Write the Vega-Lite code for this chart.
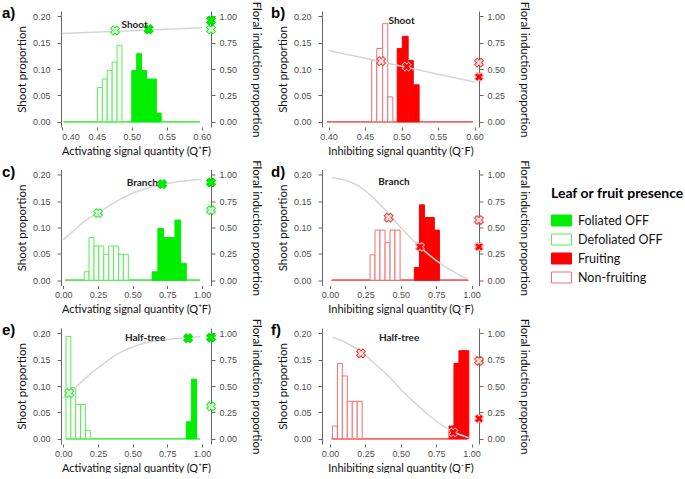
{
"$schema":"https://vega.github.io/schema/vega-lite/v6.json",
"background":"white",
"padding":{"left":2,"top":1,"right":0,"bottom":0},
"datasets":{
"bars":[
{"panel":"a","group":"Foliated OFF","x":0.403,"xe":0.597,"p":0},
{"panel":"a","group":"Defoliated OFF","x":0.403,"xe":0.597,"p":0},
{"panel":"a","group":"Defoliated OFF","x":0.451,"xe":0.458,"p":0.065},
{"panel":"a","group":"Defoliated OFF","x":0.458,"xe":0.465,"p":0.081},
{"panel":"a","group":"Defoliated OFF","x":0.465,"xe":0.472,"p":0.097},
{"panel":"a","group":"Defoliated OFF","x":0.472,"xe":0.479,"p":0.113},
{"panel":"a","group":"Defoliated OFF","x":0.479,"xe":0.486,"p":0.145},
{"panel":"a","group":"Foliated OFF","x":0.500,"xe":0.507,"p":0.097},
{"panel":"a","group":"Foliated OFF","x":0.507,"xe":0.514,"p":0.129},
{"panel":"a","group":"Foliated OFF","x":0.514,"xe":0.521,"p":0.097},
{"panel":"a","group":"Foliated OFF","x":0.521,"xe":0.528,"p":0.081},
{"panel":"a","group":"Foliated OFF","x":0.528,"xe":0.535,"p":0.081},
{"panel":"a","group":"Foliated OFF","x":0.535,"xe":0.542,"p":0.016},
{"panel":"b","group":"Fruiting","x":0.398,"xe":0.597,"p":0},
{"panel":"b","group":"Non-fruiting","x":0.398,"xe":0.597,"p":0},
{"panel":"b","group":"Non-fruiting","x":0.459,"xe":0.466,"p":0.116},
{"panel":"b","group":"Non-fruiting","x":0.466,"xe":0.474,"p":0.139},
{"panel":"b","group":"Non-fruiting","x":0.474,"xe":0.481,"p":0.186},
{"panel":"b","group":"Non-fruiting","x":0.481,"xe":0.488,"p":0.047},
{"panel":"b","group":"Fruiting","x":0.494,"xe":0.501,"p":0.139},
{"panel":"b","group":"Fruiting","x":0.501,"xe":0.509,"p":0.162},
{"panel":"b","group":"Fruiting","x":0.509,"xe":0.516,"p":0.116},
{"panel":"b","group":"Fruiting","x":0.516,"xe":0.524,"p":0.070},
{"panel":"c","group":"Foliated OFF","x":0.015,"xe":0.985,"p":0},
{"panel":"c","group":"Defoliated OFF","x":0.015,"xe":0.985,"p":0},
{"panel":"c","group":"Defoliated OFF","x":0.151,"xe":0.186,"p":0.016},
{"panel":"c","group":"Defoliated OFF","x":0.186,"xe":0.222,"p":0.081},
{"panel":"c","group":"Defoliated OFF","x":0.222,"xe":0.257,"p":0.065},
{"panel":"c","group":"Defoliated OFF","x":0.257,"xe":0.292,"p":0.065},
{"panel":"c","group":"Defoliated OFF","x":0.292,"xe":0.328,"p":0.049},
{"panel":"c","group":"Defoliated OFF","x":0.328,"xe":0.363,"p":0.065},
{"panel":"c","group":"Defoliated OFF","x":0.363,"xe":0.398,"p":0.065},
{"panel":"c","group":"Defoliated OFF","x":0.398,"xe":0.434,"p":0.049},
{"panel":"c","group":"Defoliated OFF","x":0.434,"xe":0.469,"p":0.049},
{"panel":"c","group":"Foliated OFF","x":0.641,"xe":0.682,"p":0.016},
{"panel":"c","group":"Foliated OFF","x":0.682,"xe":0.723,"p":0.098},
{"panel":"c","group":"Foliated OFF","x":0.723,"xe":0.764,"p":0.081},
{"panel":"c","group":"Foliated OFF","x":0.764,"xe":0.805,"p":0.081},
{"panel":"c","group":"Foliated OFF","x":0.805,"xe":0.846,"p":0.114},
{"panel":"c","group":"Foliated OFF","x":0.846,"xe":0.887,"p":0.032},
{"panel":"d","group":"Fruiting","x":0.012,"xe":0.977,"p":0},
{"panel":"d","group":"Non-fruiting","x":0.012,"xe":0.977,"p":0},
{"panel":"d","group":"Non-fruiting","x":0.283,"xe":0.318,"p":0.048},
{"panel":"d","group":"Non-fruiting","x":0.318,"xe":0.353,"p":0.095},
{"panel":"d","group":"Non-fruiting","x":0.353,"xe":0.389,"p":0.095},
{"panel":"d","group":"Non-fruiting","x":0.389,"xe":0.424,"p":0.071},
{"panel":"d","group":"Non-fruiting","x":0.424,"xe":0.459,"p":0.095},
{"panel":"d","group":"Non-fruiting","x":0.459,"xe":0.495,"p":0.095},
{"panel":"d","group":"Fruiting","x":0.596,"xe":0.632,"p":0.024},
{"panel":"d","group":"Fruiting","x":0.632,"xe":0.667,"p":0.143},
{"panel":"d","group":"Fruiting","x":0.667,"xe":0.702,"p":0.119},
{"panel":"d","group":"Fruiting","x":0.702,"xe":0.737,"p":0.119},
{"panel":"d","group":"Fruiting","x":0.737,"xe":0.773,"p":0.095},
{"panel":"e","group":"Foliated OFF","x":0.02,"xe":0.985,"p":0},
{"panel":"e","group":"Defoliated OFF","x":0.02,"xe":0.985,"p":0},
{"panel":"e","group":"Defoliated OFF","x":0.020,"xe":0.055,"p":0.194},
{"panel":"e","group":"Defoliated OFF","x":0.055,"xe":0.090,"p":0.097},
{"panel":"e","group":"Defoliated OFF","x":0.090,"xe":0.125,"p":0.065},
{"panel":"e","group":"Defoliated OFF","x":0.125,"xe":0.160,"p":0.065},
{"panel":"e","group":"Defoliated OFF","x":0.160,"xe":0.195,"p":0.016},
{"panel":"e","group":"Foliated OFF","x":0.887,"xe":0.924,"p":0.032},
{"panel":"e","group":"Foliated OFF","x":0.924,"xe":0.961,"p":0.113},
{"panel":"f","group":"Fruiting","x":0.012,"xe":0.97,"p":0},
{"panel":"f","group":"Non-fruiting","x":0.012,"xe":0.97,"p":0},
{"panel":"f","group":"Non-fruiting","x":0.017,"xe":0.052,"p":0.024},
{"panel":"f","group":"Non-fruiting","x":0.052,"xe":0.087,"p":0.143},
{"panel":"f","group":"Non-fruiting","x":0.087,"xe":0.122,"p":0.119},
{"panel":"f","group":"Non-fruiting","x":0.122,"xe":0.157,"p":0.071},
{"panel":"f","group":"Non-fruiting","x":0.157,"xe":0.192,"p":0.071},
{"panel":"f","group":"Non-fruiting","x":0.192,"xe":0.227,"p":0.071},
{"panel":"f","group":"Fruiting","x":0.841,"xe":0.876,"p":0.024},
{"panel":"f","group":"Fruiting","x":0.876,"xe":0.911,"p":0.143},
{"panel":"f","group":"Fruiting","x":0.911,"xe":0.946,"p":0.167},
{"panel":"f","group":"Fruiting","x":0.946,"xe":0.981,"p":0.167}
],
"curves":[
{"panel":"a","x":0.40,"f":0.837},{"panel":"a","x":0.50,"f":0.863},{"panel":"a","x":0.60,"f":0.89},
{"panel":"b","x":0.40,"f":0.676},{"panel":"b","x":0.50,"f":0.526},{"panel":"b","x":0.60,"f":0.376},
{"panel":"c","x":0,"f":0.383},{"panel":"c","x":0.05,"f":0.44},{"panel":"c","x":0.1,"f":0.5},{"panel":"c","x":0.15,"f":0.555},{"panel":"c","x":0.2,"f":0.6},{"panel":"c","x":0.25,"f":0.64},{"panel":"c","x":0.3,"f":0.68},{"panel":"c","x":0.4,"f":0.76},{"panel":"c","x":0.5,"f":0.825},{"panel":"c","x":0.6,"f":0.87},{"panel":"c","x":0.7,"f":0.905},{"panel":"c","x":0.8,"f":0.93},{"panel":"c","x":0.9,"f":0.945},{"panel":"c","x":0.99,"f":0.958},
{"panel":"d","x":0.01,"f":0.975},{"panel":"d","x":0.1,"f":0.95},{"panel":"d","x":0.2,"f":0.895},{"panel":"d","x":0.3,"f":0.79},{"panel":"d","x":0.4,"f":0.65},{"panel":"d","x":0.5,"f":0.5},{"panel":"d","x":0.6,"f":0.36},{"panel":"d","x":0.7,"f":0.24},{"panel":"d","x":0.8,"f":0.14},{"panel":"d","x":0.9,"f":0.06},{"panel":"d","x":0.98,"f":0.005},
{"panel":"e","x":0,"f":0.385},{"panel":"e","x":0.05,"f":0.44},{"panel":"e","x":0.1,"f":0.5},{"panel":"e","x":0.15,"f":0.56},{"panel":"e","x":0.2,"f":0.62},{"panel":"e","x":0.27,"f":0.69},{"panel":"e","x":0.35,"f":0.77},{"panel":"e","x":0.43,"f":0.83},{"panel":"e","x":0.51,"f":0.875},{"panel":"e","x":0.6,"f":0.91},{"panel":"e","x":0.75,"f":0.94},{"panel":"e","x":0.9,"f":0.96},{"panel":"e","x":0.99,"f":0.968},
{"panel":"f","x":0.02,"f":0.96},{"panel":"f","x":0.1,"f":0.92},{"panel":"f","x":0.2,"f":0.84},{"panel":"f","x":0.3,"f":0.73},{"panel":"f","x":0.4,"f":0.61},{"panel":"f","x":0.5,"f":0.47},{"panel":"f","x":0.6,"f":0.34},{"panel":"f","x":0.7,"f":0.22},{"panel":"f","x":0.8,"f":0.12},{"panel":"f","x":0.9,"f":0.05},{"panel":"f","x":0.98,"f":0.01}
],
"markers":[
{"panel":"a","type":"pale","x":0.476,"f":0.865},{"panel":"a","type":"solid","x":0.524,"f":0.877},{"panel":"a","type":"solid","x":0.613,"f":0.96},{"panel":"a","type":"pale","x":0.613,"f":0.875},
{"panel":"b","type":"pale","x":0.472,"f":0.575},{"panel":"b","type":"solid","x":0.507,"f":0.522},{"panel":"b","type":"pale","x":0.606,"f":0.56},{"panel":"b","type":"solid","x":0.606,"f":0.425},
{"panel":"c","type":"pale","x":0.251,"f":0.636},{"panel":"c","type":"solid","x":0.713,"f":0.911},{"panel":"c","type":"solid","x":1.065,"f":0.927},{"panel":"c","type":"pale","x":1.065,"f":0.664},
{"panel":"d","type":"pale","x":0.414,"f":0.593},{"panel":"d","type":"solid","x":0.636,"f":0.317},{"panel":"d","type":"pale","x":1.053,"f":0.571},{"panel":"d","type":"solid","x":1.053,"f":0.317},
{"panel":"e","type":"pale","x":0.043,"f":0.432},{"panel":"e","type":"solid","x":0.90,"f":0.953},{"panel":"e","type":"solid","x":1.065,"f":0.958},{"panel":"e","type":"pale","x":1.065,"f":0.306},
{"panel":"f","type":"pale","x":0.219,"f":0.81},{"panel":"f","type":"solid","x":0.871,"f":0.06},{"panel":"f","type":"pale","x":1.053,"f":0.738},{"panel":"f","type":"solid","x":1.053,"f":0.19}
],
"labels":[
{"panel":"a","label":"Shoot","x":0.504,"f":0.913},
{"panel":"b","label":"Shoot","x":0.50,"f":0.953},
{"panel":"c","label":"Branch","x":0.57,"f":0.92},
{"panel":"d","label":"Branch","x":0.452,"f":0.93},
{"panel":"e","label":"Half-tree","x":0.59,"f":0.958},
{"panel":"f","label":"Half-tree","x":0.488,"f":0.958}
]
},
"concat":[
{"width":150,"height":116,
"title":{"text":"a)","anchor":"start","frame":"group","dx":-59,"dy":20,"offset":0,"fontSize":15,"fontWeight":"bold","font":"Liberation Sans","color":"#000"},
"encoding":{"x":{"field":"x","type":"quantitative","scale":{"domain":[0.399,0.613],"nice":false,"zero":false},"axis":{"values":[0.4,0.45,0.5,0.55,0.6],"format":".2f","title":"Activating signal quantity (Q⁺F)"}}},
"layer":[
{"data":{"name":"bars"},"transform":[{"filter":"datum.panel == 'a'"}],"mark":{"type":"rect","strokeWidth":1},
"encoding":{"x2":{"field":"xe"},"y":{"field":"p","type":"quantitative","scale":{"domain":[-0.01,0.21],"nice":false,"zero":false},"axis":{"values":[0,0.05,0.1,0.15,0.2],"format":".2f","title":"Shoot proportion","labelPadding":7,"titlePadding":5}},"y2":{"datum":0},
"fill":{"field":"group","type":"nominal","scale":{"domain":["Foliated OFF","Defoliated OFF","Fruiting","Non-fruiting"],"range":["#00ee00","#ffffff","#ff0000","#ffffff"]},"legend":{"title":"Leaf or fruit presence","orient":"none","legendX":490,"legendY":176,"symbolType":"M-1,-0.55H1V0.55H-1Z","symbolSize":400}},
"stroke":{"field":"group","type":"nominal","scale":{"domain":["Foliated OFF","Defoliated OFF","Fruiting","Non-fruiting"],"range":["#00ee00","#55ee55","#ff0000","#f07070"]},"legend":{"title":"Leaf or fruit presence","orient":"none","legendX":490,"legendY":176,"symbolType":"M-1,-0.55H1V0.55H-1Z","symbolSize":400}}}},
{"encoding":{"y":{"field":"f","type":"quantitative","scale":{"domain":[-0.05,1.05],"nice":false,"zero":false},"axis":{"orient":"right","values":[0,0.25,0.5,0.75,1],"format":".2f","title":"Floral induction proportion","labelPadding":4,"titlePadding":14}}},
"layer":[
{"data":{"name":"curves"},"transform":[{"filter":"datum.panel == 'a'"}],"mark":{"type":"line","color":"#d6d6d6","strokeWidth":1.5,"interpolate":"monotone"},"encoding":{}},
{"data":{"name":"markers"},"transform":[{"filter":"datum.panel == 'a' && datum.type == 'pale'"}],"mark":{"type":"point","shape":"cross","angle":45,"size":80,"filled":true,"fill":"#d9ffd9","stroke":"#2ee62e","strokeWidth":1,"opacity":1},"encoding":{}},
{"data":{"name":"markers"},"transform":[{"filter":"datum.panel == 'a' && datum.type == 'solid'"}],"mark":{"type":"point","shape":"cross","angle":45,"size":80,"filled":true,"fill":"#00ee00","stroke":"#00dd00","strokeWidth":1,"opacity":1},"encoding":{}},
{"data":{"name":"labels"},"transform":[{"filter":"datum.panel == 'a'"}],"mark":{"type":"text","fontWeight":"bold","fontSize":10,"font":"Lato","color":"#222"},"encoding":{"text":{"field":"label"}}}
]}
],
"resolve":{"scale":{"y":"independent"}}},
{"width":157,"height":116,
"title":{"text":"b)","anchor":"start","frame":"group","dx":-51,"dy":20,"offset":0,"fontSize":15,"fontWeight":"bold","font":"Liberation Sans","color":"#000"},
"encoding":{"x":{"field":"x","type":"quantitative","scale":{"domain":[0.391,0.606],"nice":false,"zero":false},"axis":{"values":[0.4,0.45,0.5,0.55,0.6],"format":".2f","title":"Inhibiting signal quantity (Q⁻F)"}}},
"layer":[
{"data":{"name":"bars"},"transform":[{"filter":"datum.panel == 'b'"}],"mark":{"type":"rect","strokeWidth":1},
"encoding":{"x2":{"field":"xe"},"y":{"field":"p","type":"quantitative","scale":{"domain":[-0.01,0.21],"nice":false,"zero":false},"axis":{"values":[0,0.05,0.1,0.15,0.2],"format":".2f","title":"Shoot proportion","labelPadding":7,"titlePadding":5}},"y2":{"datum":0},
"fill":{"field":"group","type":"nominal","scale":{"domain":["Foliated OFF","Defoliated OFF","Fruiting","Non-fruiting"],"range":["#00ee00","#ffffff","#ff0000","#ffffff"]},"legend":{"title":"Leaf or fruit presence","orient":"none","legendX":490,"legendY":176,"symbolType":"M-1,-0.55H1V0.55H-1Z","symbolSize":400}},
"stroke":{"field":"group","type":"nominal","scale":{"domain":["Foliated OFF","Defoliated OFF","Fruiting","Non-fruiting"],"range":["#00ee00","#55ee55","#ff0000","#f07070"]},"legend":{"title":"Leaf or fruit presence","orient":"none","legendX":490,"legendY":176,"symbolType":"M-1,-0.55H1V0.55H-1Z","symbolSize":400}}}},
{"encoding":{"y":{"field":"f","type":"quantitative","scale":{"domain":[-0.05,1.05],"nice":false,"zero":false},"axis":{"orient":"right","values":[0,0.25,0.5,0.75,1],"format":".2f","title":"Floral induction proportion","labelPadding":4,"titlePadding":14}}},
"layer":[
{"data":{"name":"curves"},"transform":[{"filter":"datum.panel == 'b'"}],"mark":{"type":"line","color":"#d6d6d6","strokeWidth":1.5,"interpolate":"monotone"},"encoding":{}},
{"data":{"name":"markers"},"transform":[{"filter":"datum.panel == 'b' && datum.type == 'pale'"}],"mark":{"type":"point","shape":"cross","angle":45,"size":80,"filled":true,"fill":"#ffdcdc","stroke":"#ee3b3b","strokeWidth":1,"opacity":1},"encoding":{}},
{"data":{"name":"markers"},"transform":[{"filter":"datum.panel == 'b' && datum.type == 'solid'"}],"mark":{"type":"point","shape":"cross","angle":45,"size":80,"filled":true,"fill":"#ff0000","stroke":"#ffaaaa","strokeWidth":1,"opacity":1},"encoding":{}},
{"data":{"name":"labels"},"transform":[{"filter":"datum.panel == 'b'"}],"mark":{"type":"text","fontWeight":"bold","fontSize":10,"font":"Lato","color":"#222"},"encoding":{"text":{"field":"label"}}}
]}
],
"resolve":{"scale":{"y":"independent"}}},
{"width":150,"height":116,
"title":{"text":"c)","anchor":"start","frame":"group","dx":-59,"dy":20,"offset":0,"fontSize":15,"fontWeight":"bold","font":"Liberation Sans","color":"#000"},
"encoding":{"x":{"field":"x","type":"quantitative","scale":{"domain":[-0.016,1.065],"nice":false,"zero":false},"axis":{"values":[0,0.25,0.5,0.75,1],"format":".2f","title":"Activating signal quantity (Q⁺F)"}}},
"layer":[
{"data":{"name":"bars"},"transform":[{"filter":"datum.panel == 'c'"}],"mark":{"type":"rect","strokeWidth":1},
"encoding":{"x2":{"field":"xe"},"y":{"field":"p","type":"quantitative","scale":{"domain":[-0.01,0.21],"nice":false,"zero":false},"axis":{"values":[0,0.05,0.1,0.15,0.2],"format":".2f","title":"Shoot proportion","labelPadding":7,"titlePadding":5}},"y2":{"datum":0},
"fill":{"field":"group","type":"nominal","scale":{"domain":["Foliated OFF","Defoliated OFF","Fruiting","Non-fruiting"],"range":["#00ee00","#ffffff","#ff0000","#ffffff"]},"legend":{"title":"Leaf or fruit presence","orient":"none","legendX":490,"legendY":176,"symbolType":"M-1,-0.55H1V0.55H-1Z","symbolSize":400}},
"stroke":{"field":"group","type":"nominal","scale":{"domain":["Foliated OFF","Defoliated OFF","Fruiting","Non-fruiting"],"range":["#00ee00","#55ee55","#ff0000","#f07070"]},"legend":{"title":"Leaf or fruit presence","orient":"none","legendX":490,"legendY":176,"symbolType":"M-1,-0.55H1V0.55H-1Z","symbolSize":400}}}},
{"encoding":{"y":{"field":"f","type":"quantitative","scale":{"domain":[-0.05,1.05],"nice":false,"zero":false},"axis":{"orient":"right","values":[0,0.25,0.5,0.75,1],"format":".2f","title":"Floral induction proportion","labelPadding":4,"titlePadding":14}}},
"layer":[
{"data":{"name":"curves"},"transform":[{"filter":"datum.panel == 'c'"}],"mark":{"type":"line","color":"#d6d6d6","strokeWidth":1.5,"interpolate":"monotone"},"encoding":{}},
{"data":{"name":"markers"},"transform":[{"filter":"datum.panel == 'c' && datum.type == 'pale'"}],"mark":{"type":"point","shape":"cross","angle":45,"size":80,"filled":true,"fill":"#d9ffd9","stroke":"#2ee62e","strokeWidth":1,"opacity":1},"encoding":{}},
{"data":{"name":"markers"},"transform":[{"filter":"datum.panel == 'c' && datum.type == 'solid'"}],"mark":{"type":"point","shape":"cross","angle":45,"size":80,"filled":true,"fill":"#00ee00","stroke":"#00dd00","strokeWidth":1,"opacity":1},"encoding":{}},
{"data":{"name":"labels"},"transform":[{"filter":"datum.panel == 'c'"}],"mark":{"type":"text","fontWeight":"bold","fontSize":10,"font":"Lato","color":"#222"},"encoding":{"text":{"field":"label"}}}
]}
],
"resolve":{"scale":{"y":"independent"}}},
{"width":157,"height":116,
"title":{"text":"d)","anchor":"start","frame":"group","dx":-51,"dy":20,"offset":0,"fontSize":15,"fontWeight":"bold","font":"Liberation Sans","color":"#000"},
"encoding":{"x":{"field":"x","type":"quantitative","scale":{"domain":[-0.057,1.053],"nice":false,"zero":false},"axis":{"values":[0,0.25,0.5,0.75,1],"format":".2f","title":"Inhibiting signal quantity (Q⁻F)"}}},
"layer":[
{"data":{"name":"bars"},"transform":[{"filter":"datum.panel == 'd'"}],"mark":{"type":"rect","strokeWidth":1},
"encoding":{"x2":{"field":"xe"},"y":{"field":"p","type":"quantitative","scale":{"domain":[-0.01,0.21],"nice":false,"zero":false},"axis":{"values":[0,0.05,0.1,0.15,0.2],"format":".2f","title":"Shoot proportion","labelPadding":7,"titlePadding":5}},"y2":{"datum":0},
"fill":{"field":"group","type":"nominal","scale":{"domain":["Foliated OFF","Defoliated OFF","Fruiting","Non-fruiting"],"range":["#00ee00","#ffffff","#ff0000","#ffffff"]},"legend":{"title":"Leaf or fruit presence","orient":"none","legendX":490,"legendY":176,"symbolType":"M-1,-0.55H1V0.55H-1Z","symbolSize":400}},
"stroke":{"field":"group","type":"nominal","scale":{"domain":["Foliated OFF","Defoliated OFF","Fruiting","Non-fruiting"],"range":["#00ee00","#55ee55","#ff0000","#f07070"]},"legend":{"title":"Leaf or fruit presence","orient":"none","legendX":490,"legendY":176,"symbolType":"M-1,-0.55H1V0.55H-1Z","symbolSize":400}}}},
{"encoding":{"y":{"field":"f","type":"quantitative","scale":{"domain":[-0.05,1.05],"nice":false,"zero":false},"axis":{"orient":"right","values":[0,0.25,0.5,0.75,1],"format":".2f","title":"Floral induction proportion","labelPadding":4,"titlePadding":14}}},
"layer":[
{"data":{"name":"curves"},"transform":[{"filter":"datum.panel == 'd'"}],"mark":{"type":"line","color":"#d6d6d6","strokeWidth":1.5,"interpolate":"monotone"},"encoding":{}},
{"data":{"name":"markers"},"transform":[{"filter":"datum.panel == 'd' && datum.type == 'pale'"}],"mark":{"type":"point","shape":"cross","angle":45,"size":80,"filled":true,"fill":"#ffdcdc","stroke":"#ee3b3b","strokeWidth":1,"opacity":1},"encoding":{}},
{"data":{"name":"markers"},"transform":[{"filter":"datum.panel == 'd' && datum.type == 'solid'"}],"mark":{"type":"point","shape":"cross","angle":45,"size":80,"filled":true,"fill":"#ff0000","stroke":"#ffaaaa","strokeWidth":1,"opacity":1},"encoding":{}},
{"data":{"name":"labels"},"transform":[{"filter":"datum.panel == 'd'"}],"mark":{"type":"text","fontWeight":"bold","fontSize":10,"font":"Lato","color":"#222"},"encoding":{"text":{"field":"label"}}}
]}
],
"resolve":{"scale":{"y":"independent"}}},
{"width":150,"height":116,
"title":{"text":"e)","anchor":"start","frame":"group","dx":-59,"dy":20,"offset":0,"fontSize":15,"fontWeight":"bold","font":"Liberation Sans","color":"#000"},
"encoding":{"x":{"field":"x","type":"quantitative","scale":{"domain":[-0.016,1.065],"nice":false,"zero":false},"axis":{"values":[0,0.25,0.5,0.75,1],"format":".2f","title":"Activating signal quantity (Q⁺F)"}}},
"layer":[
{"data":{"name":"bars"},"transform":[{"filter":"datum.panel == 'e'"}],"mark":{"type":"rect","strokeWidth":1},
"encoding":{"x2":{"field":"xe"},"y":{"field":"p","type":"quantitative","scale":{"domain":[-0.01,0.21],"nice":false,"zero":false},"axis":{"values":[0,0.05,0.1,0.15,0.2],"format":".2f","title":"Shoot proportion","labelPadding":7,"titlePadding":5}},"y2":{"datum":0},
"fill":{"field":"group","type":"nominal","scale":{"domain":["Foliated OFF","Defoliated OFF","Fruiting","Non-fruiting"],"range":["#00ee00","#ffffff","#ff0000","#ffffff"]},"legend":{"title":"Leaf or fruit presence","orient":"none","legendX":490,"legendY":176,"symbolType":"M-1,-0.55H1V0.55H-1Z","symbolSize":400}},
"stroke":{"field":"group","type":"nominal","scale":{"domain":["Foliated OFF","Defoliated OFF","Fruiting","Non-fruiting"],"range":["#00ee00","#55ee55","#ff0000","#f07070"]},"legend":{"title":"Leaf or fruit presence","orient":"none","legendX":490,"legendY":176,"symbolType":"M-1,-0.55H1V0.55H-1Z","symbolSize":400}}}},
{"encoding":{"y":{"field":"f","type":"quantitative","scale":{"domain":[-0.05,1.05],"nice":false,"zero":false},"axis":{"orient":"right","values":[0,0.25,0.5,0.75,1],"format":".2f","title":"Floral induction proportion","labelPadding":4,"titlePadding":14}}},
"layer":[
{"data":{"name":"curves"},"transform":[{"filter":"datum.panel == 'e'"}],"mark":{"type":"line","color":"#d6d6d6","strokeWidth":1.5,"interpolate":"monotone"},"encoding":{}},
{"data":{"name":"markers"},"transform":[{"filter":"datum.panel == 'e' && datum.type == 'pale'"}],"mark":{"type":"point","shape":"cross","angle":45,"size":80,"filled":true,"fill":"#d9ffd9","stroke":"#2ee62e","strokeWidth":1,"opacity":1},"encoding":{}},
{"data":{"name":"markers"},"transform":[{"filter":"datum.panel == 'e' && datum.type == 'solid'"}],"mark":{"type":"point","shape":"cross","angle":45,"size":80,"filled":true,"fill":"#00ee00","stroke":"#00dd00","strokeWidth":1,"opacity":1},"encoding":{}},
{"data":{"name":"labels"},"transform":[{"filter":"datum.panel == 'e'"}],"mark":{"type":"text","fontWeight":"bold","fontSize":10,"font":"Lato","color":"#222"},"encoding":{"text":{"field":"label"}}}
]}
],
"resolve":{"scale":{"y":"independent"}}},
{"width":157,"height":116,
"title":{"text":"f)","anchor":"start","frame":"group","dx":-51,"dy":20,"offset":0,"fontSize":15,"fontWeight":"bold","font":"Liberation Sans","color":"#000"},
"encoding":{"x":{"field":"x","type":"quantitative","scale":{"domain":[-0.057,1.053],"nice":false,"zero":false},"axis":{"values":[0,0.25,0.5,0.75,1],"format":".2f","title":"Inhibiting signal quantity (Q⁻F)"}}},
"layer":[
{"data":{"name":"bars"},"transform":[{"filter":"datum.panel == 'f'"}],"mark":{"type":"rect","strokeWidth":1},
"encoding":{"x2":{"field":"xe"},"y":{"field":"p","type":"quantitative","scale":{"domain":[-0.01,0.21],"nice":false,"zero":false},"axis":{"values":[0,0.05,0.1,0.15,0.2],"format":".2f","title":"Shoot proportion","labelPadding":7,"titlePadding":5}},"y2":{"datum":0},
"fill":{"field":"group","type":"nominal","scale":{"domain":["Foliated OFF","Defoliated OFF","Fruiting","Non-fruiting"],"range":["#00ee00","#ffffff","#ff0000","#ffffff"]},"legend":{"title":"Leaf or fruit presence","orient":"none","legendX":490,"legendY":176,"symbolType":"M-1,-0.55H1V0.55H-1Z","symbolSize":400}},
"stroke":{"field":"group","type":"nominal","scale":{"domain":["Foliated OFF","Defoliated OFF","Fruiting","Non-fruiting"],"range":["#00ee00","#55ee55","#ff0000","#f07070"]},"legend":{"title":"Leaf or fruit presence","orient":"none","legendX":490,"legendY":176,"symbolType":"M-1,-0.55H1V0.55H-1Z","symbolSize":400}}}},
{"encoding":{"y":{"field":"f","type":"quantitative","scale":{"domain":[-0.05,1.05],"nice":false,"zero":false},"axis":{"orient":"right","values":[0,0.25,0.5,0.75,1],"format":".2f","title":"Floral induction proportion","labelPadding":4,"titlePadding":14}}},
"layer":[
{"data":{"name":"curves"},"transform":[{"filter":"datum.panel == 'f'"}],"mark":{"type":"line","color":"#d6d6d6","strokeWidth":1.5,"interpolate":"monotone"},"encoding":{}},
{"data":{"name":"markers"},"transform":[{"filter":"datum.panel == 'f' && datum.type == 'pale'"}],"mark":{"type":"point","shape":"cross","angle":45,"size":80,"filled":true,"fill":"#ffdcdc","stroke":"#ee3b3b","strokeWidth":1,"opacity":1},"encoding":{}},
{"data":{"name":"markers"},"transform":[{"filter":"datum.panel == 'f' && datum.type == 'solid'"}],"mark":{"type":"point","shape":"cross","angle":45,"size":80,"filled":true,"fill":"#ff0000","stroke":"#ffaaaa","strokeWidth":1,"opacity":1},"encoding":{}},
{"data":{"name":"labels"},"transform":[{"filter":"datum.panel == 'f'"}],"mark":{"type":"text","fontWeight":"bold","fontSize":10,"font":"Lato","color":"#222"},"encoding":{"text":{"field":"label"}}}
]}
],
"resolve":{"scale":{"y":"independent"}}}
],
"columns":2,
"spacing":{"row":42.5,"column":111},
"bounds":"flush",
"config":{
"view":{"stroke":null},
"axis":{"grid":false,"labelFont":"Liberation Sans","labelFontSize":9,"labelColor":"#4d4d4d","titleFont":"Lato","titleFontSize":11.5,"titleFontWeight":"normal","titleColor":"#111","tickColor":"#666","domainColor":"#666","tickSize":4},
"axisX":{"domain":false,"tickSize":3,"labelPadding":2,"titlePadding":4,"titleFontSize":11},
"legend":{"titleFont":"Lato","titleFontSize":14,"titleFontWeight":"bold","titleColor":"#000","labelFont":"Lato","labelFontSize":12.5,"labelColor":"#111","rowPadding":1,"titlePadding":9,"labelOffset":6,"symbolStrokeWidth":1,"titleLimit":300}
}
}
